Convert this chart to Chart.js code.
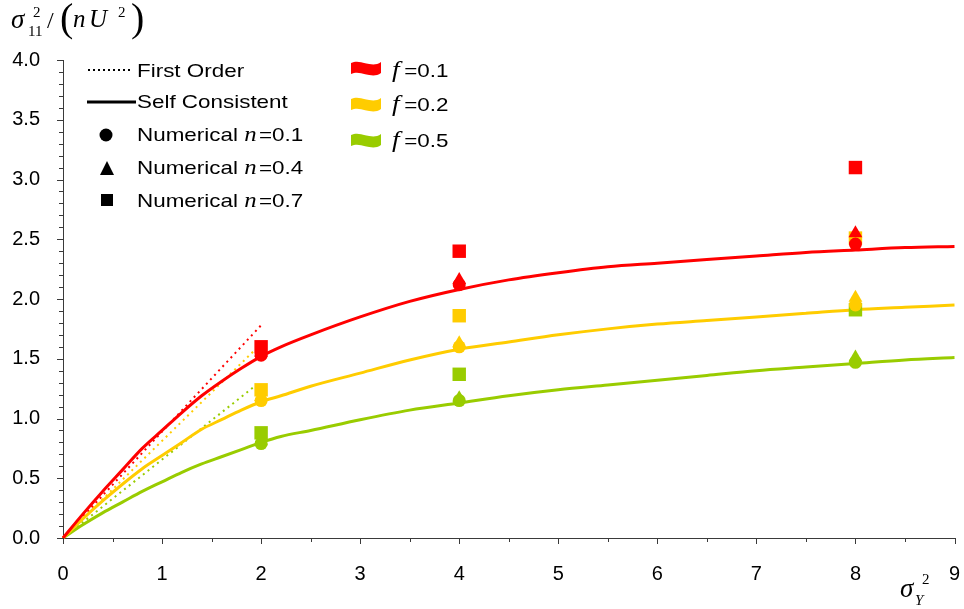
<!DOCTYPE html>
<html>
<head>
<meta charset="utf-8">
<script src="https://cdn.jsdelivr.net/npm/chart.js@4.4.1/dist/chart.umd.min.js"></script>
<style>
  html, body { margin: 0; padding: 0; background: #fff; }
  #wrap { width: 964px; height: 609px; }
</style>
</head>
<body>
<div id="wrap"><canvas id="chart" width="964" height="609"></canvas></div>
<script>
// self consistent estimates, sampled along sigma_Y^2
const scX   = [0, 0.2, 0.4, 0.6, 0.8, 1, 1.2, 1.4, 1.6, 1.8, 2, 2.2, 2.5, 3, 3.5, 4, 4.5, 5, 5.5, 6, 6.5, 7, 7.5, 8, 8.5, 9];
const scF01 = [0, 0.2, 0.39, 0.57, 0.75, 0.9, 1.05, 1.19, 1.31, 1.42, 1.52, 1.6, 1.7, 1.85, 1.98, 2.08, 2.16, 2.22, 2.27, 2.3, 2.33, 2.36, 2.39, 2.41, 2.43, 2.44];
const scF02 = [0, 0.16, 0.31, 0.45, 0.58, 0.69, 0.8, 0.91, 0.99, 1.07, 1.14, 1.19, 1.27, 1.38, 1.49, 1.58, 1.64, 1.7, 1.75, 1.79, 1.82, 1.85, 1.88, 1.91, 1.93, 1.95];
const scF05 = [0, 0.11, 0.21, 0.3, 0.39, 0.47, 0.55, 0.62, 0.68, 0.74, 0.8, 0.85, 0.9, 0.99, 1.07, 1.13, 1.19, 1.24, 1.28, 1.32, 1.36, 1.4, 1.43, 1.46, 1.49, 1.51];

// first order (small variance) approximation
const foX01 = [0, 2];
const foF01 = [0, 1.78];
const foX02 = [0, 1.92];
const foF02 = [0, 1.56];
const foX05 = [0, 1.92];
const foF05 = [0, 1.26];

// numerical results at sigma_Y^2 = 2, 4, 8
const numX   = [2, 4, 8];
const f01n01 = [1.53, 2.12, 2.46];
const f01n04 = [1.55, 2.16, 2.55];
const f01n07 = [1.6, 2.4, 3.1];
const f02n01 = [1.15, 1.6, 1.95];
const f02n04 = [1.18, 1.63, 2.01];
const f02n07 = [1.24, 1.86, 2.51];
const f05n01 = [0.79, 1.15, 1.47];
const f05n04 = [0.81, 1.17, 1.51];
const f05n07 = [0.88, 1.37, 1.91];

const yTicks = [0, 0.5, 1, 1.5, 2, 2.5, 3, 3.5, 4];
const xTicks = [0, 1, 2, 3, 4, 5, 6, 7, 8, 9];

const RED = '#ff0000';
const YELLOW = '#ffcc00';
const GREEN = '#99cc00';
const AXIS = '#3a3a3a';
const SANS = 'Arial, "Liberation Sans", sans-serif';
const SERIF = '"Times New Roman", "Liberation Serif", serif';

function pairs(xs, ys) {
  return xs.map((v, i) => ({ x: v, y: ys[i] }));
}

function markers(ys, color, style, radius) {
  return {
    type: 'scatter',
    data: pairs(numX, ys),
    pointStyle: style,
    pointRadius: radius,
    pointHoverRadius: radius,
    pointBackgroundColor: color,
    pointBorderColor: color,
    pointBorderWidth: 0,
    clip: false
  };
}

function curve(xs, ys, color) {
  return {
    type: 'line',
    data: pairs(xs, ys),
    borderColor: color,
    borderWidth: 3,
    pointRadius: 0,
    cubicInterpolationMode: 'monotone',
    clip: false
  };
}

function dotted(xs, ys, color) {
  return {
    type: 'line',
    data: pairs(xs, ys),
    borderColor: color,
    borderWidth: 2,
    borderDash: [2, 4],
    pointRadius: 0,
    clip: false
  };
}

// text runs with mixed fonts, slightly widened like the plotting package does
function drawRuns(ctx, x, y, runs, stretch) {
  ctx.save();
  ctx.translate(x, y);
  ctx.scale(stretch, 1);
  let cx = 0;
  runs.forEach((r) => {
    ctx.font = r.font;
    cx += r.dx || 0;
    ctx.fillText(r.text, cx, r.dy || 0);
    cx += ctx.measureText(r.text).width;
  });
  ctx.restore();
}

function wave(ctx, x, y, color) {
  // small ribbon swatch, 30px wide
  ctx.save();
  ctx.fillStyle = color;
  ctx.beginPath();
  ctx.moveTo(x, y - 5);
  ctx.bezierCurveTo(x + 10, y - 10, x + 20, y + 1, x + 30, y - 6);
  ctx.lineTo(x + 30, y + 5);
  ctx.bezierCurveTo(x + 20, y + 12, x + 10, y + 1, x, y + 6);
  ctx.closePath();
  ctx.fill();
  ctx.restore();
}

const axisTicks = {
  id: 'axisTicks',
  afterDraw(chart) {
    const { ctx, scales: { x, y } } = chart;
    ctx.save();
    ctx.strokeStyle = AXIS;
    ctx.lineWidth = 1;
    ctx.beginPath();
    for (let i = 0; i <= 18; i++) {
      const px = Math.round(x.getPixelForValue(i / 2)) + 0.5;
      ctx.moveTo(px, x.top);
      ctx.lineTo(px, x.top + (i % 2 === 0 ? 6 : 4));
    }
    for (let i = 0; i <= 40; i++) {
      const py = Math.round(y.getPixelForValue(i / 10)) + 0.5;
      ctx.moveTo(y.right, py);
      ctx.lineTo(y.right - (i % 5 === 0 ? 6 : 4), py);
    }
    ctx.stroke();
    ctx.restore();
  }
};

const annotations = {
  id: 'annotations',
  afterDraw(chart) {
    const ctx = chart.ctx;
    ctx.save();
    ctx.fillStyle = '#000';
    ctx.textBaseline = 'alphabetic';

    // y axis title
    ctx.font = 'italic 27px ' + SERIF;
    ctx.fillText('\u03c3', 11, 28);
    ctx.font = '15px ' + SERIF;
    ctx.fillText('2', 33, 17);
    ctx.fillText('11', 28, 36);
    ctx.font = '24px ' + SERIF;
    ctx.fillText('/', 47, 28);
    ctx.font = '40px ' + SERIF;
    ctx.fillText('(', 60, 31);
    ctx.font = 'italic 25px ' + SERIF;
    ctx.fillText('n', 73, 27);
    ctx.fillText('U', 89, 27);
    ctx.font = '15px ' + SERIF;
    ctx.fillText('2', 118, 17);
    ctx.font = '40px ' + SERIF;
    ctx.fillText(')', 131, 31);

    // x axis title
    ctx.font = 'italic 27px ' + SERIF;
    ctx.fillText('\u03c3', 900, 597);
    ctx.font = '15px ' + SERIF;
    ctx.fillText('2', 922, 584);
    ctx.font = 'italic 15px ' + SERIF;
    ctx.fillText('Y', 915, 605);

    // line / marker legend
    ctx.strokeStyle = '#000';
    ctx.lineWidth = 2;
    ctx.setLineDash([2, 3]);
    ctx.beginPath();
    ctx.moveTo(88, 70);
    ctx.lineTo(133, 70);
    ctx.stroke();
    ctx.setLineDash([]);
    ctx.lineWidth = 3;
    ctx.beginPath();
    ctx.moveTo(87, 102);
    ctx.lineTo(136, 102);
    ctx.stroke();

    ctx.beginPath();
    ctx.arc(106, 135, 6.5, 0, Math.PI * 2);
    ctx.fill();
    ctx.beginPath();
    ctx.moveTo(107, 161);
    ctx.lineTo(114, 175);
    ctx.lineTo(100, 175);
    ctx.closePath();
    ctx.fill();
    ctx.fillRect(101, 194, 12, 12);

    const sans = '19px ' + SANS;
    const ital = 'italic 21px ' + SERIF;
    drawRuns(ctx, 137, 77, [{ text: 'First Order', font: sans }], 1.18);
    drawRuns(ctx, 137, 108, [{ text: 'Self Consistent', font: sans }], 1.18);
    [['0.1', 141], ['0.4', 174], ['0.7', 207]].forEach(([v, by]) => {
      drawRuns(ctx, 137, by, [
        { text: 'Numerical ', font: sans },
        { text: 'n', font: ital },
        { text: '=' + v, font: sans, dx: 2 }
      ], 1.18);
    });

    // colour legend
    [[RED, '0.1', 68, 77], [YELLOW, '0.2', 104, 111], [GREEN, '0.5', 140, 147]].forEach(([c, v, cy, by]) => {
      wave(ctx, 351, cy, c);
      ctx.fillStyle = '#000';
      drawRuns(ctx, 392, by, [
        { text: 'f', font: 'italic 23px ' + SERIF },
        { text: '=' + v, font: sans, dx: 4 }
      ], 1.18);
    });
    ctx.restore();
  }
};

const ctx = document.getElementById('chart').getContext('2d');
new Chart(ctx, {
  type: 'scatter',
  data: {
    datasets: [
      markers(f01n04, RED, 'triangle', 8),
      markers(f01n01, RED, 'circle', 6.5),
      markers(f01n07, RED, 'rect', 9.5),
      markers(f02n04, YELLOW, 'triangle', 8),
      markers(f02n01, YELLOW, 'circle', 6.5),
      markers(f02n07, YELLOW, 'rect', 9.5),
      markers(f05n04, GREEN, 'triangle', 8),
      markers(f05n01, GREEN, 'circle', 6.5),
      markers(f05n07, GREEN, 'rect', 9.5),
      curve(scX, scF01, RED),
      curve(scX, scF02, YELLOW),
      curve(scX, scF05, GREEN),
      dotted(foX01, foF01, RED),
      dotted(foX02, foF02, YELLOW),
      dotted(foX05, foF05, GREEN)
    ]
  },
  options: {
    responsive: false,
    animation: false,
    events: [],
    layout: { padding: { top: 60, right: 8, left: 0, bottom: 0 } },
    plugins: { legend: { display: false }, tooltip: { enabled: false } },
    scales: {
      x: {
        type: 'linear',
        min: 0,
        max: 9,
        afterFit: (s) => { s.height = 71; s.paddingLeft = 0; s.paddingRight = 0; },
        afterBuildTicks: (s) => { s.ticks = xTicks.map((v) => ({ value: v })); },
        grid: { display: false },
        border: { display: true, color: AXIS, width: 1 },
        ticks: { color: '#000', font: { family: SANS, size: 20 }, padding: 16, maxRotation: 0 }
      },
      y: {
        type: 'linear',
        min: 0,
        max: 4,
        afterFit: (s) => { s.width = 63; s.paddingTop = 0; s.paddingBottom = 0; },
        afterBuildTicks: (s) => { s.ticks = yTicks.map((v) => ({ value: v })); },
        grid: { display: false },
        border: { display: true, color: AXIS, width: 1 },
        ticks: {
          color: '#000',
          font: { family: SANS, size: 20 },
          padding: 15,
          callback: (v) => Number(v).toFixed(1)
        }
      }
    }
  },
  plugins: [axisTicks, annotations]
});
</script>
</body>
</html>
